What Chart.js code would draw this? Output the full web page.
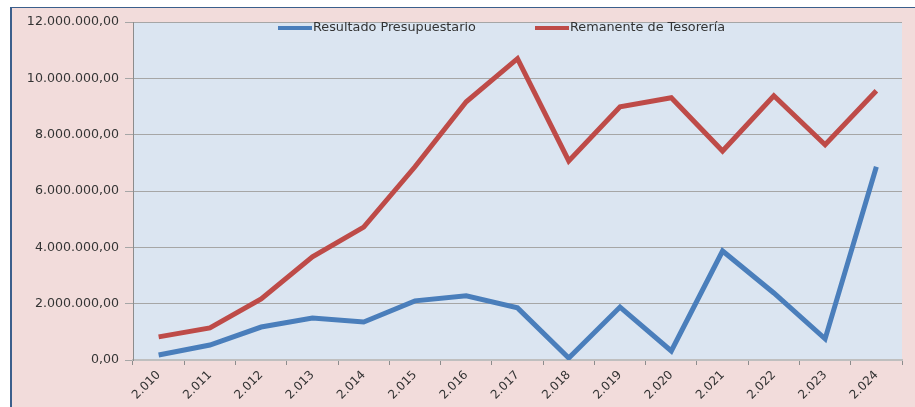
<!DOCTYPE html>
<html>
<head>
<meta charset="utf-8">
<script src="https://cdn.jsdelivr.net/npm/chart.js@4.4.1/dist/chart.umd.min.js"></script>
<style>
  html, body { margin: 0; padding: 0; background: #ffffff; }
  #marco {
    position: absolute;
    left: 10px; top: 7px; width: 905px; height: 400px;
    background: #f2dcdb;
    border-left: 2px solid #3b5f8c;
    border-top: 1px solid #3b5f8c;
    box-sizing: border-box;
  }
  #grafico { display: block; }
</style>
</head>
<body>
<div id="marco"><canvas id="grafico" width="903" height="399"></canvas></div>
<script>
// ================================
// Datos del gráfico
// ================================
const anios = ["2.010", "2.011", "2.012", "2.013", "2.014", "2.015", "2.016", "2.017",
  "2.018", "2.019", "2.020", "2.021", "2.022", "2.023", "2.024"]

const resultadoPresupuestario = [180000, 530000, 1170000, 1490000, 1350000, 2100000, 2280000, 1850000,
  70000, 1880000, 320000, 3870000, 2380000, 750000, 6860000]

const remanenteTesoreria = [820000, 1140000, 2170000, 3660000, 4720000, 6860000, 9170000, 10700000,
  7070000, 8990000, 9310000, 7420000, 9380000, 7640000, 9560000]

const etiquetasSeries = ["Resultado Presupuestario", "Remanente de Tesorería"]

const colores = ["#4a7ebb", "#be4b48"]
const colorTexto = "#333333"
const fuente = "'DejaVu Sans', sans-serif"

// formato 12.000.000,00
function formatoEs(v) {
  const entero = Math.round(v).toString().replace(/\B(?=(\d{3})+(?!\d))/g, ".")
  return entero + ",00"
}

// ================================
// Plugins: fondo del área y leyenda
// ================================
const fondoArea = {
  id: "fondoArea",
  beforeDraw(chart) {
    const { ctx, chartArea: a } = chart
    ctx.save()
    ctx.fillStyle = "#dbe5f1"
    ctx.fillRect(a.left, a.top, a.right - a.left, a.bottom - a.top)
    ctx.restore()
  },
}

const leyendaInterna = {
  id: "leyendaInterna",
  afterDraw(chart) {
    const { ctx, chartArea: a } = chart
    const y = a.top + 6
    const posiciones = [145, 402]
    ctx.save()
    ctx.font = "12.8px " + fuente
    ctx.textBaseline = "middle"
    chart.data.datasets.forEach((ds, i) => {
      const x = a.left + posiciones[i]
      ctx.strokeStyle = ds.borderColor
      ctx.lineWidth = 4
      ctx.beginPath()
      ctx.moveTo(x, y)
      ctx.lineTo(x + 34, y)
      ctx.stroke()
      ctx.fillStyle = colorTexto
      ctx.fillText(ds.label, x + 35, y)
    })
    ctx.restore()
  },
}

// ================================
// Gráfico de líneas
// ================================
const ctx = document.getElementById("grafico").getContext("2d")

new Chart(ctx, {
  type: "line",
  data: {
    labels: anios,
    datasets: [
      {
        label: etiquetasSeries[0],
        data: resultadoPresupuestario,
        borderColor: colores[0],
        borderWidth: 5,
        pointRadius: 0,
        tension: 0,
      },
      {
        label: etiquetasSeries[1],
        data: remanenteTesoreria,
        borderColor: colores[1],
        borderWidth: 5,
        pointRadius: 0,
        tension: 0,
      },
    ],
  },
  options: {
    responsive: false,
    animation: false,
    layout: { padding: { top: 14, right: 13, left: 0, bottom: 0 } },
    plugins: {
      legend: { display: false },
      tooltip: { enabled: false },
    },
    scales: {
      x: {
        offset: true,
        grid: {
          offset: true,
          drawOnChartArea: false,
          color: "#8c8c8c",
          tickLength: 5,
        },
        border: { color: "#bfbfbf", width: 2 },
        ticks: {
          minRotation: 45,
          maxRotation: 45,
          color: colorTexto,
          font: { family: fuente, size: 12 },
          padding: 3,
        },
        afterFit(s) { s.height = 47 },
      },
      y: {
        min: 0,
        max: 12000000,
        grid: { color: "#a6a6a6", tickLength: 8 },
        border: { color: "#8c8c8c" },
        ticks: {
          stepSize: 2000000,
          color: colorTexto,
          font: { family: fuente, size: 12.6 },
          padding: 6,
          callback: (v) => formatoEs(v),
        },
        afterFit(s) { s.width = 121 },
      },
    },
  },
  plugins: [fondoArea, leyendaInterna],
})
</script>
</body>
</html>
